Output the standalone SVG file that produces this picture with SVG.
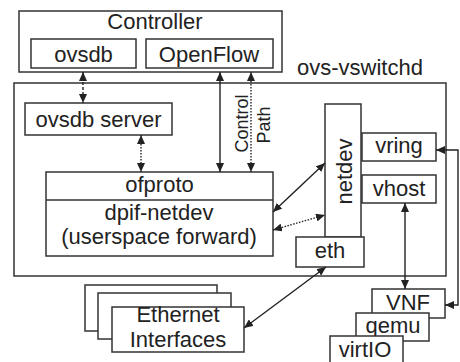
<svg xmlns="http://www.w3.org/2000/svg" width="460" height="362" viewBox="0 0 460 362">
  <defs>
    <marker id="head" viewBox="0 0 10 10" refX="10" refY="5" markerWidth="9" markerHeight="8" markerUnits="userSpaceOnUse" orient="auto-start-reverse" preserveAspectRatio="none">
      <path d="M0,0 L10,5 L0,10 z" fill="#222"/>
    </marker>
    <style>
      .box { fill: #fff; stroke: #333; stroke-width: 1.5; }
      .lbl { font-family: "Liberation Sans", Arial, sans-serif; font-size: 22px; fill: #222; text-anchor: middle; }
      .small { font-size: 18px; }
      .link { fill: none; stroke: #222; stroke-width: 1.4; marker-start: url(#head); marker-end: url(#head); }
      .dashed { stroke-dasharray: 3 2; }
      .dotted { stroke-dasharray: 1.5 1.5; }
    </style>
  </defs>

  <rect width="460" height="362" fill="#fff"/>

  <!-- controller -->
  <g id="controller">
    <rect class="box" x="19" y="11" width="263" height="61"/>
    <text class="lbl" x="155" y="29">Controller</text>
  </g>
  <g id="ovsdb">
    <rect class="box" x="31" y="39" width="105" height="29"/>
    <text class="lbl" x="83.5" y="62">ovsdb</text>
  </g>
  <g id="openflow">
    <rect class="box" x="146" y="39" width="127" height="29"/>
    <text class="lbl" x="209" y="62">OpenFlow</text>
  </g>

  <!-- switch daemon -->
  <g id="ovs-vswitchd">
    <rect class="box" x="14" y="83" width="432" height="193"/>
    <text class="lbl" x="360" y="75">ovs-vswitchd</text>
  </g>
  <g id="ovsdb-server">
    <rect class="box" x="25" y="103" width="147" height="32"/>
    <text class="lbl" x="98.5" y="127">ovsdb server</text>
  </g>
  <g id="ofproto-dpif">
    <rect class="box" x="46" y="172" width="227" height="84"/>
    <line x1="46" y1="200" x2="273" y2="200" stroke="#333" stroke-width="1.5"/>
    <text class="lbl" x="159.5" y="192">ofproto</text>
    <text class="lbl" x="159" y="220">dpif-netdev</text>
    <text class="lbl" x="159" y="244">(userspace forward)</text>
  </g>
  <g id="netdev">
    <rect class="box" x="325" y="104" width="36" height="133"/>
    <text class="lbl" transform="translate(352,171.5) rotate(-90)">netdev</text>
  </g>
  <g id="eth">
    <rect class="box" x="296" y="237" width="68" height="30"/>
    <text class="lbl" x="330" y="258">eth</text>
  </g>
  <g id="vring">
    <rect class="box" x="362" y="133" width="74" height="28"/>
    <text class="lbl" x="399" y="153">vring</text>
  </g>
  <g id="vhost">
    <rect class="box" x="362" y="175" width="74" height="28"/>
    <text class="lbl" x="399" y="196">vhost</text>
  </g>

  <!-- physical ports -->
  <g id="ethernet-interfaces">
    <rect class="box" x="85" y="285" width="132" height="46"/>
    <rect class="box" x="98" y="293" width="133" height="46"/>
    <rect class="box" x="112" y="307" width="132" height="45"/>
    <text class="lbl" x="178" y="322">Ethernet</text>
    <text class="lbl" x="178" y="347">Interfaces</text>
  </g>

  <!-- guest stack -->
  <g id="vnf">
    <rect class="box" x="372" y="289" width="73" height="29"/>
    <text class="lbl" x="408" y="310">VNF</text>
  </g>
  <g id="qemu">
    <rect class="box" x="356" y="313" width="73" height="28"/>
    <text class="lbl" x="393" y="333">qemu</text>
  </g>
  <g id="virtio">
    <rect class="box" x="330" y="336" width="73" height="30"/>
    <text class="lbl" x="365" y="357">virtIO</text>
  </g>

  <!-- connectors -->
  <g id="connectors">
    <line class="link dashed" x1="83" y1="72" x2="83" y2="103"/>
    <line class="link" x1="220" y1="72" x2="220" y2="172"/>
    <line class="link dotted" x1="251" y1="72" x2="251" y2="172"/>
    <line class="link dotted" x1="141" y1="135" x2="141" y2="172"/>
    <line class="link" x1="273" y1="212" x2="325" y2="163"/>
    <line class="link dotted" x1="273" y1="230" x2="325" y2="215"/>
    <line class="link" x1="244" y1="328" x2="326" y2="267"/>
    <line class="link" x1="405" y1="203" x2="405" y2="289"/>
    <path class="link" d="M436,150 H458 V305 H445"/>
  </g>

  <!-- control path label -->
  <g id="control-path">
    <text class="lbl small" transform="translate(248,123.5) rotate(-90)">Control</text>
    <text class="lbl small" transform="translate(270,125) rotate(-90)">Path</text>
  </g>
</svg>
